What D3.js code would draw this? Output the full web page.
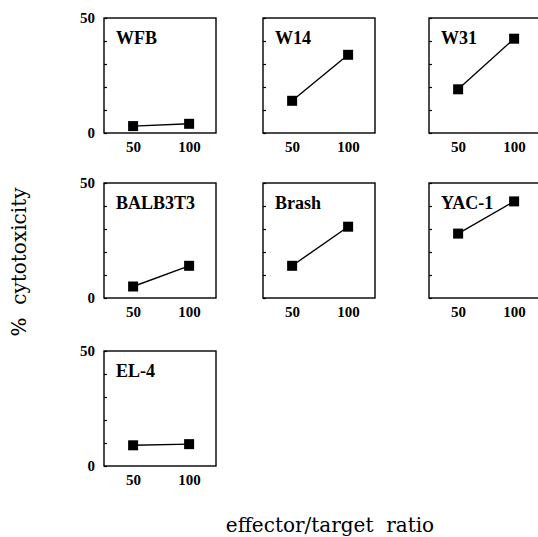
<!DOCTYPE html>
<html>
<head>
<meta charset="utf-8">
<script src="https://cdn.jsdelivr.net/npm/d3@7"></script>
<style>
  body { margin: 0; background: #fff; }
  svg { display: block; }
  .serif { font-family: "Liberation Serif", "Times New Roman", serif; }
  .title { font-family: "DejaVu Serif", serif; }
</style>
</head>
<body>
<div id="chart"></div>
<script>
// effector/target ratios on the x axis
var ratios = [50, 100];

// cell lines, in reading order
var cellLines = ['WFB', 'W14', 'W31', 'BALB3T3', 'Brash', 'YAC-1', 'EL-4'];

// % cytotoxicity at 50 and 100, one array per cell line
var wfb     = [3, 4];
var w14     = [14, 34];
var w31     = [19, 41];
var balb3t3 = [5, 14];
var brash   = [14, 31];
var yac1    = [28, 42];
var el4     = [9, 9.5];

var yTicks = [0, 10, 20, 30, 40, 50];
var yLabels = [0, 50];

var series = [wfb, w14, w31, balb3t3, brash, yac1, el4];

var width = 538, height = 537;

// panel grid
var colX = [104, 263, 429];
var rowY = [18, 183, 351];
var pw = 112, ph = 115;

var xScale = d3.scaleLinear()
	.domain([24, 124])
	.range([0, pw]);

var yScale = d3.scaleLinear()
	.domain([0, 50])
	.range([ph, 0]);

var svg = d3.select('#chart').append('svg')
	.attr('width', width)
	.attr('height', height);

var line = d3.line()
	.x(function(d, i) { return xScale(ratios[i]); })
	.y(function(d) { return yScale(d); });

cellLines.forEach(function(name, k) {
	var col = k % 3, row = Math.floor(k / 3);
	var g = svg.append('g')
		.attr('transform', 'translate(' + colX[col] + ',' + rowY[row] + ')');

	// frame
	g.append('rect')
		.attr('width', pw)
		.attr('height', ph)
		.attr('fill', 'none')
		.attr('stroke', '#000')
		.attr('stroke-width', 1.4);

	// y axis, small inner ticks, numbers only on left column
	var yAxis = d3.axisLeft(yScale)
		.tickValues(yTicks)
		.tickSize(-3)
		.tickPadding(9)
		.tickFormat(function(d) {
			return (col === 0 && yLabels.indexOf(d) >= 0) ? d : '';
		});
	var yg = g.append('g').call(yAxis)
		.attr('font-family', null);
	yg.select('.domain').remove();
	yg.selectAll('line').attr('stroke-width', 1.2);
	yg.selectAll('text')
		.classed('serif', true)
		.attr('font-weight', 'bold')
		.attr('font-size', 15)
		.attr('fill', '#000');

	// x axis
	var xAxis = d3.axisBottom(xScale)
		.tickValues(ratios)
		.tickSize(0)
		.tickPadding(8);
	var xg = g.append('g')
		.attr('transform', 'translate(0,' + ph + ')')
		.call(xAxis)
		.attr('font-family', null);
	xg.select('.domain').remove();
	xg.selectAll('text')
		.classed('serif', true)
		.attr('font-weight', 'bold')
		.attr('font-size', 15)
		.attr('fill', '#000');

	// data
	var vals = series[k];
	g.append('path')
		.datum(vals)
		.attr('d', line)
		.attr('fill', 'none')
		.attr('stroke', '#000')
		.attr('stroke-width', 1.4);

	g.selectAll('rect.pt')
		.data(vals)
		.enter().append('rect')
			.classed('pt', true)
			.attr('x', function(d, i) { return xScale(ratios[i]) - 5; })
			.attr('y', function(d) { return yScale(d) - 5; })
			.attr('width', 10)
			.attr('height', 10)
			.attr('fill', '#000');

	// panel name
	g.append('text')
		.classed('serif', true)
		.attr('x', 12)
		.attr('y', 26)
		.attr('font-weight', 'bold')
		.attr('font-size', 18)
		.text(name);
});

// axis titles
svg.append('text')
	.classed('title', true)
	.attr('transform', 'translate(26,262) rotate(-90)')
	.attr('text-anchor', 'middle')
	.attr('font-size', 20)
	.style('white-space', 'pre')
	.text('%  cytotoxicity');

svg.append('text')
	.classed('title', true)
	.attr('x', 330)
	.attr('y', 532)
	.attr('text-anchor', 'middle')
	.attr('font-size', 20)
	.style('white-space', 'pre')
	.text('effector/target  ratio');
</script>
</body>
</html>
